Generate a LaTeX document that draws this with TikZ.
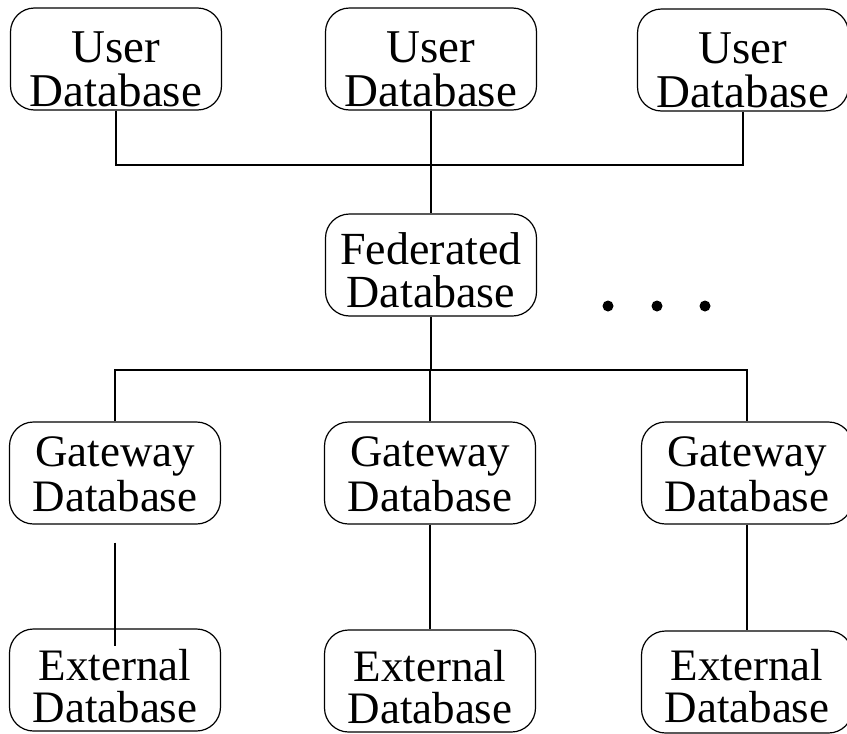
\documentclass[tikz,border=0pt]{standalone}
\usepackage{fontspec}
\setmainfont{Liberation Serif}
\usetikzlibrary{positioning}

\begin{document}
\begin{tikzpicture}[x=1pt, y=-1pt, line width=1.2pt,
  dbbox/.style={draw, rounded corners=24pt, minimum width=211pt, minimum height=102pt, inner sep=0pt, align=center},
  userbox/.style={dbbox, font=\fontsize{47}{44}\selectfont},
  fedbox/.style={dbbox, font=\fontsize{46}{43}\selectfont},
  gatebox/.style={dbbox, font=\fontsize{45}{45}\selectfont},
  extbox/.style={dbbox, font=\fontsize{45}{42}\selectfont}]
\useasboundingbox (0,0) rectangle (847,734);
% user databases
\node[userbox] (user1) at (116,59) {\rule{0pt}{52pt}User\\Database};
\node[userbox] (user2) at (431,59) {\rule{0pt}{52pt}User\\Database};
\node[userbox] (user3) at (743,60) {\rule{0pt}{52pt}User\\Database};
% federated database
\node[fedbox] (fed) at (431,265) {\rule{0pt}{42pt}Federated\\Database};
\foreach \x in {608,657,705} {
  \fill (\x,306) circle (5.5pt);
}
% gateway databases
\node[gatebox] (gate1) at (115,473) {\rule{0pt}{33pt}Gateway\\Database};
\node[gatebox] (gate2) at (430,473) {\rule{0pt}{33pt}Gateway\\Database};
\node[gatebox] (gate3) at (747,473) {\rule{0pt}{33pt}Gateway\\Database};
% external databases
\node[extbox] (ext1) at (115,680) {\rule{0pt}{44pt}External\\Database};
\node[extbox] (ext2) at (430,681) {\rule{0pt}{44pt}External\\Database};
\node[extbox] (ext3) at (747,682) {\rule{0pt}{40pt}External\\Database};
% connecting lines
\coordinate (topbus) at (431,165);
\coordinate (lowbus) at (431,370);
\draw (user1.south) |- (topbus) -| (user3.south);
\draw (user2.south) -- (fed.north);
\draw (fed.south) -- (lowbus);
\draw (gate1.north) |- (lowbus) -| (gate3.north);
\draw (gate2.north) -- (gate2.north |- lowbus);
\draw[shorten <=18pt, shorten >=-18pt] (gate1.south) -- (ext1.north);
\draw (gate2.south) -- (ext2.north);
\draw (gate3.south) -- (ext3.north);
\end{tikzpicture}
\end{document}
